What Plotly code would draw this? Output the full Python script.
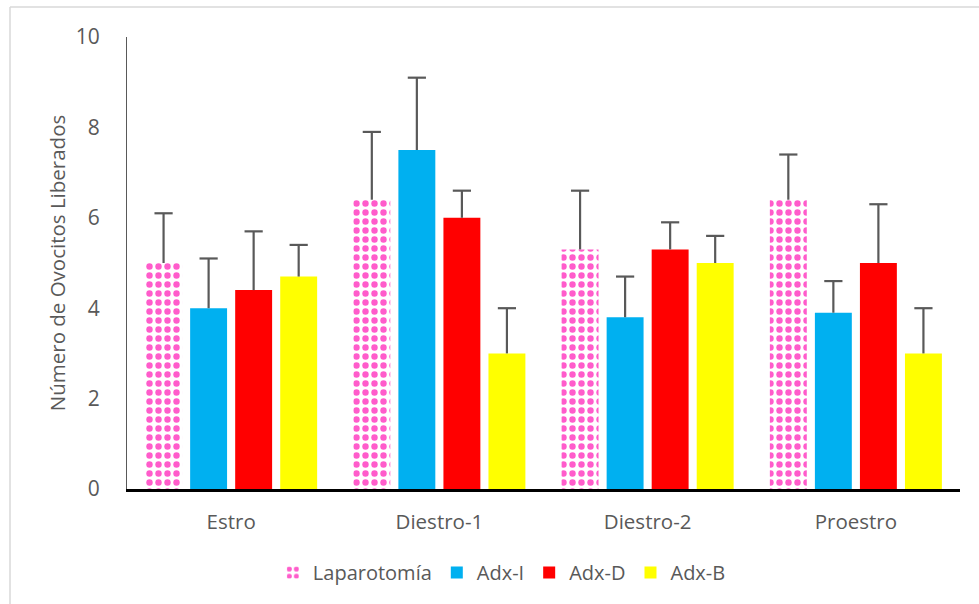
import plotly.graph_objects as go

# Ovulation data: mean number of ova released per cycle stage and treatment group
stages = ["Estro", "Diestro-1", "Diestro-2", "Proestro"]
groups = ["Laparotomía", "Adx-I", "Adx-D", "Adx-B"]

laparotomia = [5.0, 6.4, 5.3, 6.4]
adx_i = [4.0, 7.5, 3.8, 3.9]
adx_d = [4.4, 6.0, 5.3, 5.0]
adx_b = [4.7, 3.0, 5.0, 3.0]

# Standard error (upper whisker only)
err_laparotomia = [1.1, 1.5, 1.3, 1.0]
err_adx_i = [1.1, 1.6, 0.9, 0.7]
err_adx_d = [1.3, 0.6, 0.6, 1.3]
err_adx_b = [0.7, 1.0, 0.6, 1.0]

y_ticks = [0, 2, 4, 6, 8, 10]

values = [laparotomia, adx_i, adx_d, adx_b]
errors = [err_laparotomia, err_adx_i, err_adx_d, err_adx_b]
colors = ["#FF5CCB", "#00B0F0", "#FF0000", "#FFFF00"]

FONT = "Open Sans"
TXT = "#595959"
W, H = 979, 604
L, R, T, B = 127, 19, 37, 115
GAP = 0.135

fig = go.Figure()
for i, (name, vals, errs, col) in enumerate(zip(groups, values, errors, colors)):
    if i == 0:
        marker = dict(
            color="white",
            pattern=dict(shape=".", fgcolor=col, bgcolor="white", fgopacity=1,
                         size=9, solidity=0.4, fillmode="overlay"),
            line=dict(width=0),
        )
    else:
        marker = dict(color=col, line=dict(width=0))
    # whisker line without caps; the top cap is drawn separately below
    fig.add_trace(go.Bar(
        name=name, x=stages, y=vals, marker=marker, offsetgroup=str(i),
        error_y=dict(type="data", array=errs, arrayminus=[0] * len(errs),
                     symmetric=False, color=TXT, thickness=2.2, width=0),
    ))

# top caps of the whiskers, grouped like the bars
for i, (vals, errs) in enumerate(zip(values, errors)):
    fig.add_trace(go.Scatter(
        x=stages, y=[v + e for v, e in zip(vals, errs)], mode="markers",
        offsetgroup=str(i), showlegend=False, hoverinfo="skip",
        marker=dict(symbol="line-ew", size=13, color=TXT,
                    line=dict(color=TXT, width=2.2)),
    ))

pw = W - L - R
ph = H - T - B
# light frame on the left and top edges
frame_x = (10 - L) / pw
frame_y = (H - B - 7) / ph
fig.add_shape(type="line", xref="paper", yref="paper",
              x0=frame_x, x1=frame_x, y0=frame_y, y1=-B / ph - 0.05,
              line=dict(color="#D9D9D9", width=1.5))
fig.add_shape(type="line", xref="paper", yref="paper",
              x0=frame_x, x1=1 + R / pw + 0.05, y0=frame_y, y1=frame_y,
              line=dict(color="#D9D9D9", width=1.5))

fig.update_layout(
    width=W, height=H,
    margin=dict(l=L, r=R, t=T, b=B),
    paper_bgcolor="white", plot_bgcolor="white",
    barmode="group", bargap=GAP, bargroupgap=0.18,
    scattermode="group", scattergap=GAP,
    font=dict(family=FONT, color=TXT, size=20),
    showlegend=True,
    legend=dict(orientation="h", x=0.45, xanchor="center", y=-0.185, yanchor="middle",
                font=dict(size=20, color=TXT), itemwidth=30,
                traceorder="normal"),
    xaxis=dict(
        showline=True, linecolor="black", linewidth=2.5,
        showgrid=False, ticks="", ticklabelstandoff=13,
        tickfont=dict(size=20.5, color=TXT),
    ),
    yaxis=dict(
        range=[0, 10], tickvals=y_ticks, showgrid=False, zeroline=False,
        showline=True, linecolor=TXT, linewidth=1.3,
        ticks="", ticklabelstandoff=22,
        tickfont=dict(size=21, color=TXT),
        title=dict(text="Número de Ovocitos Liberados", standoff=4,
                   font=dict(size=20.5, color=TXT)),
    ),
)

fig.write_html("out.html")
